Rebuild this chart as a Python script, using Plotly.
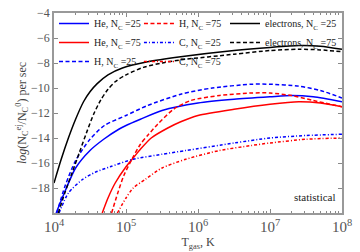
import plotly.graph_objects as go

# log10(T) sample positions and log-rate values
lt_e25 = [4.0, 4.1, 4.2, 4.3, 4.41, 4.5, 4.6, 4.75, 4.95, 5.3, 5.76, 6.5, 7.0, 7.4, 7.7, 8.0]
v_e25 = [-17.6, -15.7, -14.0, -12.5, -11.1, -10.3, -9.65, -8.95, -8.4, -7.9, -7.5, -7.0, -6.75, -6.6, -6.65, -6.9]

lt_e75 = [4.06, 4.15, 4.25, 4.35, 4.45, 4.55, 4.65, 4.75, 4.85, 5.0, 5.24, 5.5, 5.76, 6.5, 7.0, 7.4, 7.7, 8.0]
v_e75 = [-20, -18.4, -16.8, -15.2, -13.6, -12.1, -10.95, -10.1, -9.5, -8.95, -8.35, -8.0, -7.75, -7.3, -7.0, -6.9, -6.95, -7.1]

lt_he25 = [4.03, 4.15, 4.3, 4.5, 4.69, 4.9, 5.0, 5.2, 5.5, 6.0, 6.5, 7.0, 7.3, 7.6, 8.0]
v_he25 = [-20, -18.3, -16.4, -15.0, -14.1, -13.3, -13.0, -12.5, -11.8, -11.2, -10.9, -10.7, -10.6, -10.7, -11.1]

lt_h25 = [4.04, 4.15, 4.3, 4.5, 4.7, 5.0, 5.3, 5.76, 6.2, 6.74, 7.0, 7.4, 7.7, 8.0]
v_h25 = [-20, -17.9, -15.8, -14.1, -13.0, -12.2, -11.4, -10.5, -10.0, -9.7, -9.7, -9.85, -10.2, -10.8]

lt_c25 = [4.07, 4.2, 4.4, 4.57, 4.78, 5.1, 5.5, 5.83, 6.5, 7.0, 7.5, 8.0]
v_c25 = [-20, -18.4, -17.3, -16.75, -16.3, -15.7, -15.3, -15.0, -14.4, -14.0, -13.8, -13.7]

lt_he75 = [4.67, 4.75, 4.85, 5.0, 5.1, 5.2, 5.35, 5.58, 5.76, 6.0, 6.5, 7.0, 7.4, 7.7, 8.0]
v_he75 = [-20, -18.8, -17.6, -16.3, -15.6, -14.9, -14.0, -13.2, -12.7, -12.2, -11.7, -11.3, -11.1, -11.2, -11.5]

lt_h75 = [4.8, 4.88, 4.97, 5.1, 5.2, 5.3, 5.44, 5.66, 5.9, 6.3, 6.74, 7.0, 7.3, 7.6, 8.0]
v_h75 = [-20, -18.5, -17.0, -15.5, -14.5, -13.8, -12.9, -11.7, -11.0, -10.6, -10.4, -10.4, -10.6, -11.0, -11.5]

lt_c75 = [4.88, 5.0, 5.1, 5.27, 5.5, 5.83, 6.3, 6.74, 7.0, 7.5, 8.0]
v_c75 = [-20, -18.8, -18.0, -17.3, -16.4, -15.7, -15.0, -14.6, -14.4, -14.1, -14.0]

y_ticks = [-4, -6, -8, -10, -12, -14, -16, -18]

BLUE = "rgb(0,0,255)"
RED = "rgb(255,0,0)"
BLACK = "black"
DASH = "4px,2.5px"
DOT = "3px,2px,1px,2px"

series = [
    ("He, N<sub>C</sub> =25", lt_he25, v_he25, BLUE, "solid", "legend"),
    ("He, N<sub>C</sub> =75", lt_he75, v_he75, RED, "solid", "legend"),
    ("H, N<sub>C</sub> =25", lt_h25, v_h25, BLUE, DASH, "legend"),
    ("H, N<sub>C</sub> =75", lt_h75, v_h75, RED, DASH, "legend2"),
    ("C, N<sub>C</sub> =25", lt_c25, v_c25, BLUE, DOT, "legend2"),
    ("C, N<sub>C</sub> =75", lt_c75, v_c75, RED, DOT, "legend2"),
    ("electrons, N<sub>C</sub> =25", lt_e25, v_e25, BLACK, "solid", "legend3"),
    ("electrons, N<sub>C</sub> =75", lt_e75, v_e75, BLACK, DASH, "legend3"),
]

fig = go.Figure()
for name, lt, v, col, dash, leg in series:
    fig.add_trace(go.Scatter(
        x=[10 ** t for t in lt], y=v, mode="lines", name=name,
        line=dict(color=col, dash=dash, width=1.5, shape="spline", smoothing=0.7),
        legend=leg,
    ))

FONT = "Liberation Serif"
leg_common = dict(bgcolor="rgba(0,0,0,0)", font=dict(family=FONT, size=10, color="#222"),
                  tracegroupgap=0, itemwidth=30, yanchor="top")

fig.update_layout(
    width=360, height=252,
    margin=dict(l=54, r=18, t=13, b=39, autoexpand=False),
    paper_bgcolor="white", plot_bgcolor="white",
    font=dict(family=FONT, size=12, color="#444"),
    showlegend=True,
    legend=dict(x=0.0, y=1.02, xanchor="left", **leg_common),
    legend2=dict(x=0.295, y=1.02, xanchor="left", **leg_common),
    legend3=dict(x=1.0, y=1.02, xanchor="right", **leg_common),
    xaxis=dict(
        type="log", range=[4, 8], dtick=1, exponentformat="power", automargin=False,
        ticks="inside", ticklen=4, tickcolor="#888", mirror="ticks",
        showline=True, linecolor="#999", linewidth=1.5, showgrid=False, zeroline=False,
        minor=dict(ticks="inside", ticklen=2, tickcolor="#888", showgrid=False),
        tickfont=dict(family=FONT, size=12, color="#555"),
        title=dict(text="T<sub>gas</sub>, K", font=dict(family=FONT, size=12, color="#444"), standoff=2),
    ),
    yaxis=dict(
        range=[-20, -4], tickvals=y_ticks, automargin=False,
        ticks="inside", ticklen=4, tickcolor="#888", mirror="ticks",
        showline=True, linecolor="#999", linewidth=1.5, showgrid=False, zeroline=False,
        tickfont=dict(family=FONT, size=12, color="#555"),
        title=dict(text="<i>log</i>(N<sub>C</sub><sup>ej</sup>/N<sub>C</sub><sup>0</sup>) per sec",
                   font=dict(family=FONT, size=12, color="#444"), standoff=2),
    ),
    annotations=[dict(text="statistical", xref="paper", yref="paper", x=0.985, y=0.04,
                      xanchor="right", yanchor="bottom", showarrow=False,
                      font=dict(family=FONT, size=11, color="#222"))],
)

fig.write_html("out.html", config={"displayModeBar": False},
               post_script="document.body.style.margin='0px';")
